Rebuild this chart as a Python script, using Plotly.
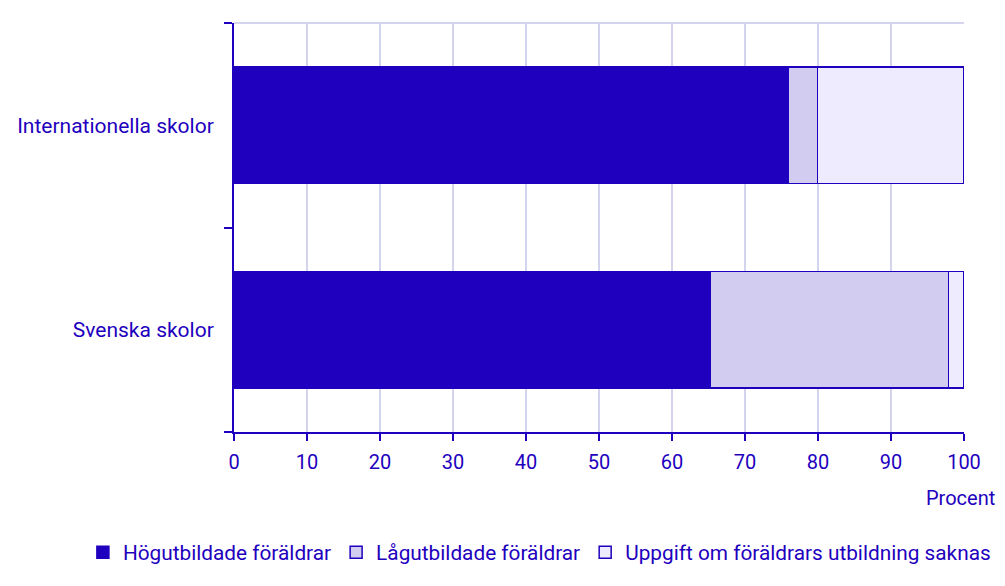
import plotly.graph_objects as go

categories = ["Svenska skolor", "Internationella skolor"]
series_names = ["Högutbildade föräldrar", "Lågutbildade föräldrar", "Uppgift om föräldrars utbildning saknas"]
hog = [65.2, 75.9]
lag = [32.7, 4.0]
saknas = [2.1, 20.1]
x_ticks = [0, 10, 20, 30, 40, 50, 60, 70, 80, 90, 100]

DARK = "#1E00BE"
MID = "#D2CCF0"
LIGHT = "#EDEBFD"
GRID = "#D4D4EE"
FONT = "Roboto"

fig = go.Figure()
for name, vals, col in [(series_names[0], hog, DARK), (series_names[1], lag, MID), (series_names[2], saknas, LIGHT)]:
    fig.add_trace(go.Bar(
        y=categories, x=vals, name=name, orientation="h",
        marker=dict(color=col, line=dict(color=DARK, width=1.5)),
        width=0.57,
    ))

fig.update_layout(
    barmode="stack",
    width=1005, height=586,
    margin=dict(l=234, r=41, t=23, b=154, autoexpand=False),
    plot_bgcolor="white", paper_bgcolor="white",
    font=dict(family=FONT, size=20, color=DARK),
    showlegend=True,
    legend=dict(orientation="h", x=-0.207, xanchor="left", y=-0.245, yanchor="top",
                traceorder="normal", font=dict(size=20.8, color=DARK),
                itemwidth=30, tracegroupgap=0),
    xaxis=dict(range=[0, 100], tickvals=x_ticks, showgrid=True, gridcolor=GRID, gridwidth=2,
               showline=True, linecolor=DARK, linewidth=2, ticks="outside", ticklen=7,
               tickwidth=2, tickcolor=DARK, zeroline=False, fixedrange=True,
               ticklabelstandoff=4, tickfont=dict(size=20, color=DARK)),
    yaxis=dict(showline=True, linecolor=DARK, linewidth=2, ticks="outside", tickson="boundaries",
               ticklen=8, tickwidth=2, tickcolor=DARK, showgrid=False, ticklabelstandoff=14,
               tickfont=dict(size=21, color=DARK), range=[-0.5, 1.5], fixedrange=True),
    shapes=[dict(type="line", xref="x", yref="paper", x0=0, x1=100, y0=1, y1=1,
                 line=dict(color=GRID, width=2), layer="below")],
    annotations=[dict(text="Procent", xref="paper", yref="paper", x=1.045, y=-0.161,
                      xanchor="right", yanchor="middle", showarrow=False,
                      font=dict(size=20, color=DARK))],
)

fig.write_html("out.html", config={"displayModeBar": False},
               post_script="document.body.style.margin='0';document.body.style.overflow='hidden';")
